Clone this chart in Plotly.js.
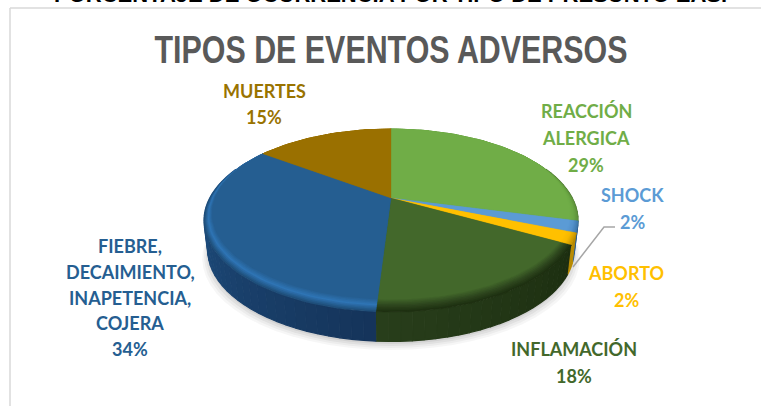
<!DOCTYPE html>
<html><head><meta charset="utf-8">
<script src="https://cdn.plot.ly/plotly-3.0.1.min.js"></script>
<style>html,body{margin:0;padding:0;background:#fff;overflow:hidden}#c{width:761px;height:406px}</style>
</head><body><div id="c"></div>
<script>
// ---- data ----
const categories = ["REACCIÓN ALERGICA","SHOCK","ABORTO","INFLAMACIÓN","FIEBRE, DECAIMIENTO, INAPETENCIA, COJERA","MUERTES"];
const values = [29,2,2,18,34,15];
const labelLines = [["REACCIÓN","ALERGICA"],["SHOCK"],["ABORTO"],["INFLAMACIÓN"],["FIEBRE,","DECAIMIENTO,","INAPETENCIA,","COJERA"],["MUERTES"]];
const chartTitle = "TIPOS DE EVENTOS ADVERSOS";
const clippedHeading = "PORCENTAJE DE OCURRENCIA POR TIPO DE PRESUNTO EAS.";

// ---- styles ----
const faceColors = ["#70ad47","#5b9bd5","#ffc000","#43682b","#255e91","#9a7000"];
const textColors = ["#70ad47","#5b9bd5","#ffc000","#43682b","#255e91","#997300"];
const sideStart  = ["#4f7a32","#2f5f8f","#b88a00","#1c2e10","#15345a","#6f5200"];
const sideEnd    = ["#4f7a32","#2f5f8f","#b88a00","#283e1b","#22598f","#6f5200"];
// rim colours from the outer edge inward; the last one blends into the face colour
const rimProfile = [
  ["#5f933c","#6ba744","#70ad47"],
  ["#3f7aae","#5492cb","#5b9bd5"],
  ["#c89700","#f5b800","#ffc000"],
  ["#1e3011","#2f481f","#43682b"],
  ["#1f4e79","#2f75b5","#255e91"],
  ["#9a7000","#9a7000","#9a7000"]
];
// label anchor (x centre, first-line y centre, per-line spacing) in picture pixels
const labelAt = [[586,111,27],[632,195,27],[626,273,27],[574,349,27],[130,246,25.8],[264,91,26]];
const fontFamily = "Lato, Carlito, 'Open Sans', sans-serif";

// ---- pie geometry ----
const CX=391, CY=198, A=86, B=0.246, C=181.3, DEPTH=30, SCALE=0.98, RIM=0.085, RIM_LAYERS=9;
function proj(th,rho,dy,k){
  const s=rho*Math.sin(th), t=-rho*Math.cos(th), d=1-B*t;
  return [CX+k*C*s/d, CY+A*t/d+dy];
}
function hex(c){return [1,3,5].map(i=>parseInt(c.substr(i,2),16));}
function mix(a,b,f){const p=hex(a),q=hex(b);return 'rgb('+p.map((v,i)=>Math.round(v+(q[i]-v)*f)).join(',')+')';}
function ramp(stops,f){
  const x=f*(stops.length-1), i=Math.min(stops.length-2,Math.floor(x));
  return mix(stops[i],stops[i+1],x-i);
}

const total=values.reduce((a,b)=>a+b,0);
const bounds=[0]; values.forEach(v=>bounds.push(bounds[bounds.length-1]+v/total*2*Math.PI));

const traces=[];
function poly(pts,fill,name,lw){
  traces.push({type:'scatter',mode:'lines',x:pts.map(p=>p[0]),y:pts.map(p=>p[1]),fill:'toself',
    fillcolor:fill,line:{color:fill,width:lw},name:name,showlegend:false,hoverinfo:'name'});
}
// soft shadow
[[1.03,8,0.035],[1.02,6,0.04],[1.01,4,0.05],[1.0,2,0.06]].forEach(s=>{
  const pts=[];
  for(let a=0;a<=72;a++) pts.push(proj(a*Math.PI/36,1,DEPTH+s[1],SCALE*s[0]));
  poly(pts,'rgba(0,0,0,'+s[2]+')','sombra',0);
});
// side wall
values.forEach((v,i)=>{
  const a0=bounds[i],a1=bounds[i+1],n=Math.max(2,Math.ceil((a1-a0)/(Math.PI/60)));
  for(let j=0;j<n;j++){
    const p=a0+(a1-a0)*j/n,q=a0+(a1-a0)*(j+1)/n;
    if(Math.cos((p+q)/2)>0.35) continue;
    poly([proj(p,1,0,1),proj(q,1,0,1),proj(q,1,DEPTH-0.6,SCALE),proj(p,1,DEPTH-0.6,SCALE)],
         mix(sideStart[i],sideEnd[i],(j+.5)/n),categories[i],1.2);
  }
});
// top face with a soft bevelled rim
function rimWidth(th){return Math.min(1,Math.max(0,(-Math.cos(th)+0.5)/1.5));}
for(let l=0;l<RIM_LAYERS;l++){
  const f=l/(RIM_LAYERS-1), d=RIM*f;
  values.forEach((v,i)=>{
    const a0=bounds[i],a1=bounds[i+1],n=Math.max(4,Math.ceil((a1-a0)/(Math.PI/90)));
    const pts=[proj(0,0,0,1)];
    for(let j=0;j<=n;j++){const th=a0+(a1-a0)*j/n; pts.push(proj(th,1-d*rimWidth(th),0,1));}
    pts.push(proj(0,0,0,1));
    poly(pts,ramp(rimProfile[i],f),categories[i],0.3);
  });
}
// leader line for ABORTO
traces.push({type:'scatter',mode:'lines',x:[573,604,615],y:[267,227,227],
  line:{color:'#a6a6a6',width:1.5},showlegend:false,hoverinfo:'skip'});

// ---- text ----
const annotations=[];
function addText(x,y,text,color){
  annotations.push({xref:'x',yref:'y',x:x,y:y,text:text,showarrow:false,xanchor:'center',yanchor:'middle',
    font:{family:fontFamily,size:18,color:color,weight:700}});
}
values.forEach((v,i)=>{
  const [x,y,dy]=labelAt[i];
  const lines=labelLines[i].concat([v+'%']);
  lines.forEach((t,k)=>addText(x,y+k*dy,t,textColors[i]));
});
annotations.push({xref:'x',yref:'y',x:390,y:9,yanchor:'bottom',xanchor:'center',showarrow:false,text:clippedHeading,
  font:{family:"'Liberation Sans', Arial, sans-serif",size:22,color:'#000',weight:700}});

const layout={
  width:761,height:406,margin:{l:0,r:0,t:0,b:0},paper_bgcolor:'#fff',plot_bgcolor:'#fff',showlegend:false,
  title:{text:chartTitle,x:391/761,xanchor:'center',y:1-49/406,yanchor:'middle',
    font:{family:"'Liberation Sans',Arial,sans-serif",size:39,color:'#595959',weight:700}},
  xaxis:{range:[0,761],visible:false,fixedrange:true},
  yaxis:{range:[406,0],visible:false,fixedrange:true},
  annotations:annotations,
  shapes:[
    {type:'line',xref:'x',yref:'y',x0:10,x1:10,y0:8,y1:406,line:{color:'#d9d9d9',width:1.5}},
    {type:'line',xref:'x',yref:'y',x0:10,x1:761,y0:8,y1:8,line:{color:'#d9d9d9',width:1.5}}
  ]
};
Plotly.newPlot('c',traces,layout,{displayModeBar:false,staticPlot:true}).then(()=>{
  // the reference title is horizontally condensed: keep it as real text, fit to its width
  const t=document.querySelector('.gtitle');
  if(t){t.setAttribute('textLength','473');t.setAttribute('lengthAdjust','spacingAndGlyphs');}
});
</script></body></html>
